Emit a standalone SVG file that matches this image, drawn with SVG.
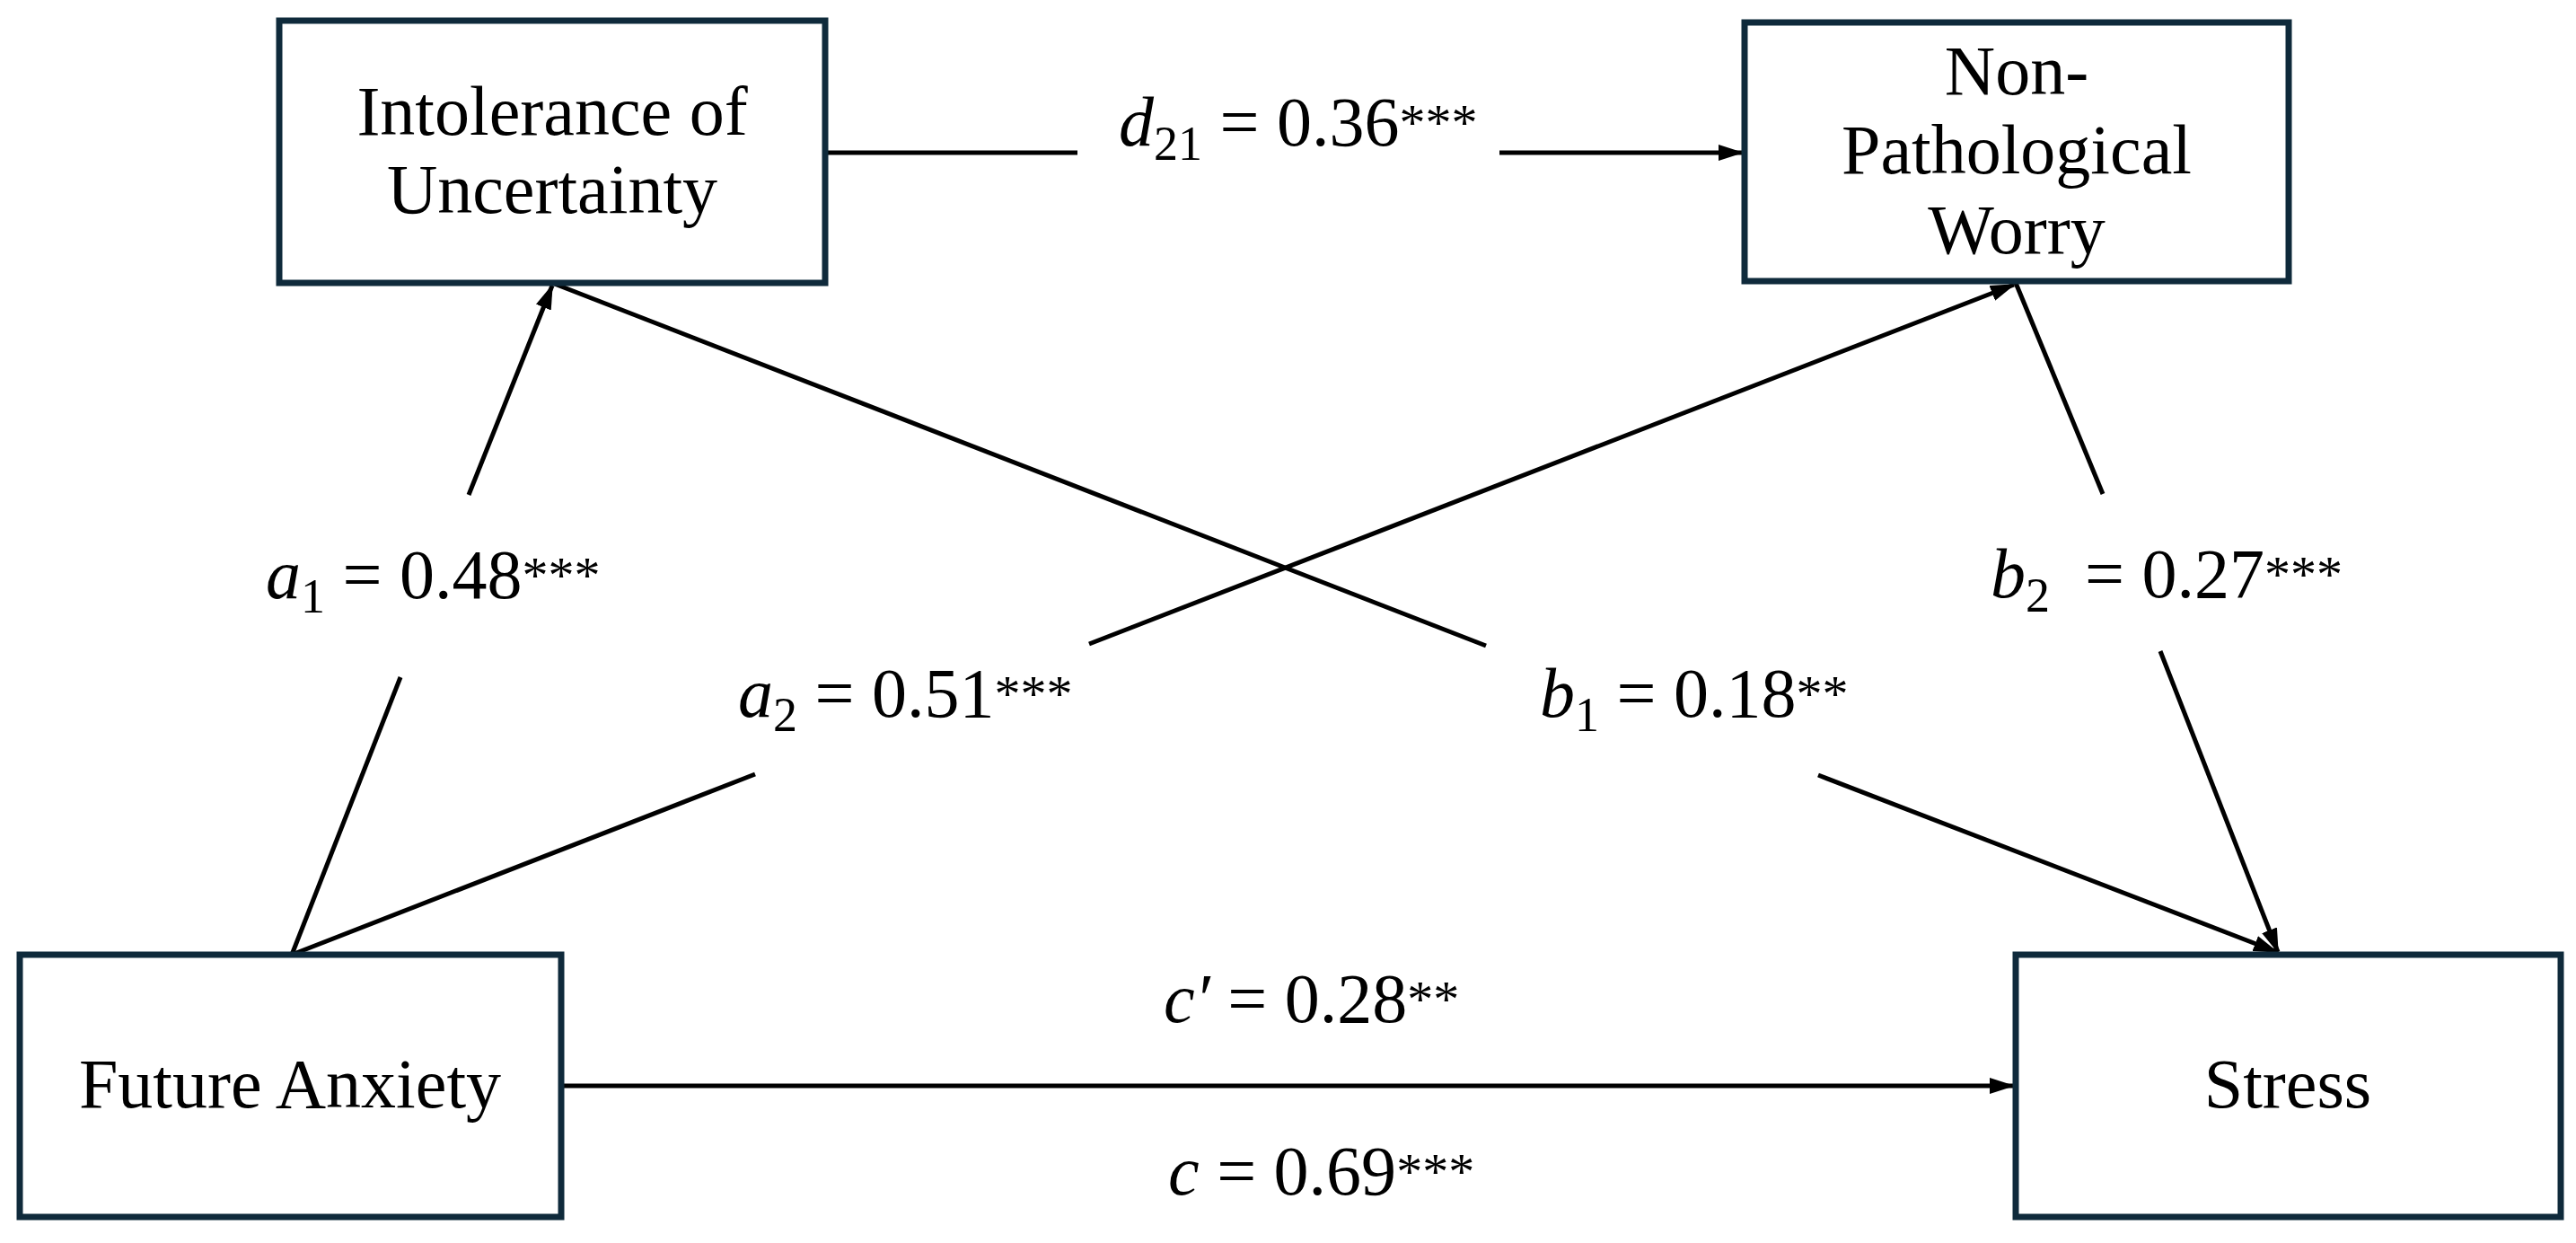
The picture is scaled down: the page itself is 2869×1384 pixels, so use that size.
<svg xmlns="http://www.w3.org/2000/svg" width="2869" height="1384" viewBox="0 0 2869 1384">
<style>
.box{fill:#fff;stroke:#0f2a3b;stroke-width:7}
.nt{font-family:"Liberation Serif",serif;font-size:78px;fill:#000;text-anchor:middle}
.lb{font-family:"Liberation Serif",serif;font-size:78px;fill:#000}
.i{font-style:italic}
.sub{font-size:54px}
.sup{font-size:58px}
.ln{stroke:#000;stroke-width:5;fill:none}
</style>
<defs>
<marker id="ah" markerUnits="userSpaceOnUse" markerWidth="28" markerHeight="22" refX="26" refY="11" orient="auto">
<path d="M0,2 L28,11 L0,20 Z" fill="#000"/>
</marker>
</defs>
<rect width="2869" height="1384" fill="#fff"/>
<g id="connectors">
<line class="ln" x1="919" y1="170" x2="1200" y2="170"/>
<line class="ln" x1="1670" y1="170" x2="1940" y2="170" marker-end="url(#ah)"/>
<line class="ln" x1="325" y1="1063" x2="446" y2="754"/>
<line class="ln" x1="522" y1="551" x2="615" y2="318" marker-end="url(#ah)"/>
<line class="ln" x1="325" y1="1063" x2="841" y2="862"/>
<line class="ln" x1="1213" y1="717" x2="2243" y2="317" marker-end="url(#ah)"/>
<line class="ln" x1="615" y1="315" x2="1655" y2="719"/>
<line class="ln" x1="2025" y1="863" x2="2536" y2="1060" marker-end="url(#ah)"/>
<line class="ln" x1="2245" y1="315" x2="2342" y2="550"/>
<line class="ln" x1="2406" y1="725" x2="2537" y2="1060" marker-end="url(#ah)"/>
<line class="ln" x1="625" y1="1209" x2="2242" y2="1209" marker-end="url(#ah)"/>
</g>
<g id="node-iu">
<rect class="box" x="311" y="23" width="608" height="292"/>
<text class="nt" x="615" y="150">Intolerance of</text>
<text class="nt" x="615" y="237">Uncertainty</text>
</g>
<g id="node-npw">
<rect class="box" x="1943" y="25" width="606" height="288"/>
<text class="nt" x="2246" y="105">Non-</text>
<text class="nt" x="2246" y="193">Pathological</text>
<text class="nt" x="2246" y="282">Worry</text>
</g>
<g id="node-fa">
<rect class="box" x="22" y="1063" width="603" height="292"/>
<text class="nt" x="323" y="1233">Future Anxiety</text>
</g>
<g id="node-stress">
<rect class="box" x="2245" y="1063" width="607" height="292"/>
<text class="nt" x="2548" y="1233">Stress</text>
</g>
<g id="labels">
<text class="lb" x="1246" y="162"><tspan class="i">d</tspan><tspan class="sub" dy="16">21</tspan><tspan dy="-16"> = 0.36</tspan><tspan class="sup" dy="-6">***</tspan></text>
<text class="lb" x="296" y="666"><tspan class="i">a</tspan><tspan class="sub" dy="16">1</tspan><tspan dy="-16"> = 0.48</tspan><tspan class="sup" dy="-6">***</tspan></text>
<text class="lb" x="822" y="798"><tspan class="i">a</tspan><tspan class="sub" dy="16">2</tspan><tspan dy="-16"> = 0.51</tspan><tspan class="sup" dy="-6">***</tspan></text>
<text class="lb" x="1715" y="798"><tspan class="i">b</tspan><tspan class="sub" dy="16">1</tspan><tspan dy="-16"> = 0.18</tspan><tspan class="sup" dy="-6">**</tspan></text>
<text class="lb" x="2217" y="665"><tspan class="i">b</tspan><tspan class="sub" dy="16">2</tspan><tspan dy="-16" xml:space="preserve">  = 0.27</tspan><tspan class="sup" dy="-6">***</tspan></text>
<text class="lb" x="1296" y="1138"><tspan class="i">c′</tspan> = 0.28<tspan class="sup" dy="-6">**</tspan></text>
<text class="lb" x="1301" y="1330"><tspan class="i">c</tspan> = 0.69<tspan class="sup" dy="-6">***</tspan></text>
</g>
</svg>
